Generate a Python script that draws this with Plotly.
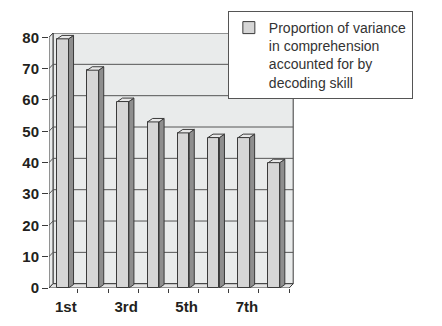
import plotly.graph_objects as go

# ---- data ----
categories = ["1st", "2nd", "3rd", "4th", "5th", "6th", "7th", "8th"]
values = [79.5, 69.5, 59.5, 53, 49.5, 48, 48, 40]
y_tick_values = [0, 10, 20, 30, 40, 50, 60, 70, 80]
x_label_idx = [0, 2, 4, 6]
series_name = "Proportion of variance<br>in comprehension<br>accounted for by<br>decoding skill"

# ---- styling constants (3D look) ----
X_MIN, X_MAX = -0.457, 7.66
Y_MAX_DATA = 80
HW = 0.19          # half bar width
BDX, BDY = 0.166, 1.1   # bar depth offset (data units)
WDX, WDY = 0.133, 1.37  # wall depth offset
Y_TOP = Y_MAX_DATA + WDY
X_END = len(categories) - 0.5

FRONT = "#d6d6d6"
SIDE = "#8e8e8e"
TOP = "#e8e8e8"
WALL = "#e9ebeb"
EDGE = "#3a3a3a"
GRID = "#555555"
TXT = "#231f20"

xs = list(range(len(categories)))

fig = go.Figure()

# front faces
fig.add_trace(go.Bar(
    x=xs, y=values, width=2 * HW, name=series_name,
    marker=dict(color=FRONT, line=dict(color=EDGE, width=1)),
    showlegend=True, hoverinfo="skip",
))

# side faces
sx, sy = [], []
for x, v in zip(xs, values):
    sx += [x + HW, x + HW + BDX, x + HW + BDX, x + HW, x + HW, None]
    sy += [0, BDY, v + BDY, v, 0, None]
fig.add_trace(go.Scatter(x=sx, y=sy, fill="toself", fillcolor=SIDE, mode="lines",
                         line=dict(color=EDGE, width=1), showlegend=False, hoverinfo="skip"))
# top faces
tx, ty = [], []
for x, v in zip(xs, values):
    tx += [x - HW, x + HW, x + HW + BDX, x - HW + BDX, x - HW, None]
    ty += [v, v, v + BDY, v + BDY, v, None]
fig.add_trace(go.Scatter(x=tx, y=ty, fill="toself", fillcolor=TOP, mode="lines",
                         line=dict(color=EDGE, width=1), showlegend=False, hoverinfo="skip"))

# dummy trace for label axis
fig.add_trace(go.Scatter(x=[0], y=[0], xaxis="x2", mode="markers",
                         marker=dict(opacity=0), showlegend=False, hoverinfo="skip"))

shapes = []
# back wall
shapes.append(dict(type="rect", xref="x", yref="y", x0=X_MIN + WDX, x1=X_END + WDX,
                   y0=WDY, y1=Y_TOP, fillcolor=WALL, line=dict(color=EDGE, width=1), layer="below"))
# side wall
shapes.append(dict(type="path", xref="x", yref="y",
                   path=f"M{X_MIN},0 L{X_MIN + WDX},{WDY} L{X_MIN + WDX},{Y_TOP} L{X_MIN},{Y_MAX_DATA} Z",
                   fillcolor=WALL, line=dict(color=EDGE, width=1), layer="below"))
# floor
shapes.append(dict(type="path", xref="x", yref="y",
                   path=f"M{X_MIN},0 L{X_END},0 L{X_END + WDX},{WDY} L{X_MIN + WDX},{WDY} Z",
                   fillcolor="#e4e4e4", line=dict(color=EDGE, width=1), layer="below"))
# gridlines
for t in y_tick_values[1:-1]:
    shapes.append(dict(type="line", xref="x", yref="y", x0=X_MIN + WDX, x1=X_END + WDX,
                       y0=t + WDY, y1=t + WDY, line=dict(color=GRID, width=1), layer="below"))
    shapes.append(dict(type="line", xref="x", yref="y", x0=X_MIN, x1=X_MIN + WDX,
                       y0=t, y1=t + WDY, line=dict(color=GRID, width=1), layer="below"))

fig.update_layout(
    width=442, height=326,
    margin=dict(l=49, r=148, t=32, b=38),
    paper_bgcolor="white", plot_bgcolor="white",
    shapes=shapes,
    bargap=0,
    font=dict(family="Liberation Sans, Arial, sans-serif", color=TXT),
    xaxis=dict(range=[X_MIN, X_MAX], tickvals=[i + 0.5 for i in xs], ticks="outside",
               ticklen=4, tickcolor=EDGE, showticklabels=False, showgrid=False,
               zeroline=False, showline=False, fixedrange=True),
    xaxis2=dict(overlaying="x", anchor="y", side="bottom", range=[X_MIN, X_MAX],
                tickvals=[i + 0.1 for i in x_label_idx],
                ticktext=[categories[i] for i in x_label_idx],
                ticks="", showgrid=False, zeroline=False, showline=False,
                ticklabelstandoff=8,
                tickfont=dict(family="Liberation Sans, Arial, sans-serif", size=15, color=TXT, weight="bold")),
    yaxis=dict(range=[0, Y_TOP], tickvals=y_tick_values, ticks="outside", ticklen=6,
               tickcolor=EDGE, showgrid=False, zeroline=False, showline=False,
               tickfont=dict(family="Liberation Sans, Arial, sans-serif", size=15, color=TXT, weight="bold")),
    legend=dict(x=0.73, y=1.082, xanchor="left", yanchor="top", bgcolor="white",
                bordercolor="#555555", borderwidth=1, valign="top",
                font=dict(family="Liberation Sans, Arial, sans-serif", size=14, color="#333333")),
)

fig.write_html("out.html")
